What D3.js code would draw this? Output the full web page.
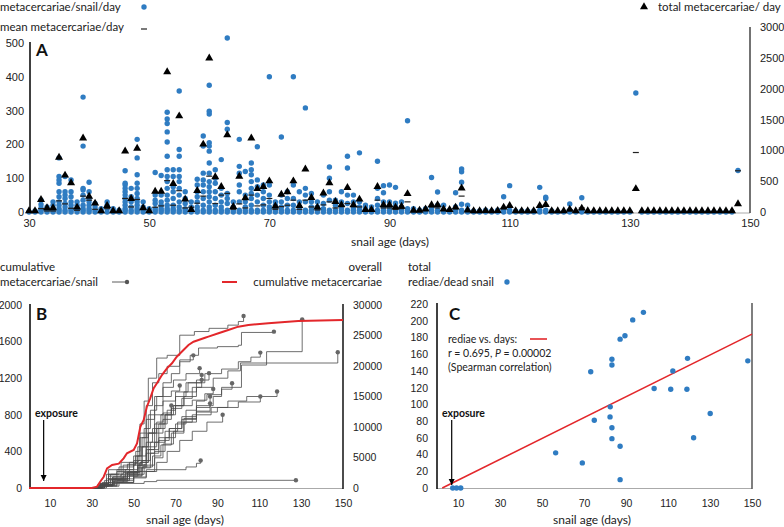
<!DOCTYPE html>
<meta charset="utf-8">
<style>
body { margin: 0; background: #fff; }
svg { font-family: Lato, "Open Sans", sans-serif; }
.tick text { font-size: 11px; fill: #222; }
.small .tick text { font-size: 10.5px; }
.leg { font-size: 11.5px; fill: #222; }
.title { font-size: 12px; fill: #222; }
.panel { font-size: 17px; font-weight: bold; fill: #111; }
.expo { font-size: 10.5px; font-weight: bold; fill: #111; }
.note { font-size: 10.5px; fill: #222; }
</style>
<svg width="784" height="527"></svg>
<script src="https://d3js.org/d3.v7.min.js"></script>
<script>

// ---------- panel A data ----------
// metacercariae per snail per day: [day, values of each snail]
var perSnailDay = [
  [30,[0]],[31,[0,3]],[32,[0,5,12,22,35]],[33,[0,5,15]],[34,[0,4,10,20,30]],
  [35,[0,5,10,20,30,45,60,85,95,105,160]],[36,[0,5,15,25,40,50,60,105]],
  [37,[0,5,10,20,30,45,60,95]],[38,[0,5,10,20,30]],[39,[0,5,10,20,35,50,65,70,195,340]],
  [40,[0,5,10,20,30,40,60,88]],[41,[0,5,15,25]],[42,[0,5,10]],[43,[0,10,20,30]],
  [44,[0,5,10]],[45,[0,5]],[46,[0,5,10,20,30,40,50,60,70,80,85,122]],
  [47,[0,5,15,30,45,70]],[48,[0,5,10,20,30,40,55,70,85,110,160,215]],
  [49,[0,5,15,30]],[50,[0,5,10]],[51,[0,5,10,25,35,50,117]],[52,[0,5,10,20,30,50,108]],
  [53,[0,5,10,20,35,50,70,90,105,125,165,207,237,262,275,295]],
  [54,[0,5,10,20,40,60,75,105,125]],[55,[0,5,15,30,50,70,90,105,125,165,185,358]],
  [56,[0,5,10,25,40,60]],[57,[0,5,15,30]],[58,[0,5,15,30,45,60,80,97]],
  [59,[0,5,20,40,60,80,95,115,195,225]],
  [60,[0,5,15,30,45,60,75,90,115,145,180,195,205,290,298,375]],
  [61,[0,5,20,40,60,85,100,125]],[62,[0,5,15,30,50,70,155]],[63,[0,5,25,40,55,245,265,515]],
  [64,[0,5,15,30]],[65,[0,5,30,60,80,115,135,215]],[66,[0,5,15,30,50,120]],
  [67,[0,5,20,40,55,70,90,110,125,145]],[68,[0,5,30,50,75,95,193]],[69,[0,5,20,40,60,80]],
  [70,[0,5,15,30,50,80,400]],[71,[0,5,10,20,30]],[72,[0,5,15,30,50,222]],[73,[0,5,20,40,60]],
  [74,[0,5,20,40,80,400]],[75,[0,5,15,30,60]],[76,[0,5,30,50,70,308]],[77,[0,5,15,30,55]],
  [78,[0,5,15,30]],[79,[0,5,10,25,50]],[80,[0,5,35,60,100,133]],[81,[0,5,20,35]],
  [82,[0,5,10,30,60]],[83,[0,5,25,50,130,165]],[84,[0,5,10,30,50]],[85,[0,5,15,30,175]],
  [86,[0,5,10,20]],[87,[0,5,15]],[88,[0,5,20,40,70,150]],[89,[0,5,15,30,57,78]],
  [90,[0,5,15,30,80]],[91,[0,5,15,26,73]],[92,[0,5,15,30]],[93,[0,5,10,270]],[94,[0,5,10]],
  [95,[0,5]],[96,[0,5,10]],[97,[0,5,15,102]],[98,[0,5,20,59]],[99,[0,5,20]],[100,[0,5]],
  [101,[0,5,15,57]],[102,[0,5,23,88,119,127]],[103,[0,5,20]],[104,[0,3]],[105,[0,3]],
  [106,[0,5]],[107,[0,3]],[108,[0,5]],[109,[0,5,45]],[110,[0,5,78]],[111,[0,3]],[112,[0,3]],
  [113,[0,3]],[114,[0,3]],[115,[0,5,73]],[116,[0,5,40,44]],[117,[0,3]],[118,[0]],[119,[0]],
  [120,[0,5,24]],[121,[0]],[122,[0,5,42]],[123,[0]],[124,[0]],[125,[0]],[126,[0]],[127,[0]],
  [128,[0]],[129,[0]],[130,[0]],[131,[352]],[132,[0]],[133,[0]],[134,[0]],[135,[0]],
  [136,[0]],[137,[0]],[138,[0]],[139,[0]],[140,[0]],[141,[0]],[142,[0]],[143,[0]],
  [144,[0]],[145,[0]],[146,[0]],[147,[0]],[148,[123]]
];

// days 30..148
var dayFirst = 30;
var meanPerDay = [0,0,10,3,3,33,24,11,5,47,35,8,0,10,0,0,40,15,37,8,
  0,14,18,93,20,63,12,14,26,47,106,25,50,55,8,24,12,50,18,21,
  40,8,16,20,35,8,35,15,6,21,30,12,18,25,16,15,5,5,35,12,
  12,8,10,30,3,3,6,15,12,5,3,10,47,4,0,0,2,0,2,10,
  15,0,0,0,0,15,20,0,0,0,7,0,12,0,0,0,0,0,0,0,
  0,176,0,0,0,0,0,0,0,0,0,0,0,0,0,0,0,0,122];
var totalPerDay = [0,0,185,50,50,869,579,454,60,1180,235,125,0,87,0,0,972,200,1016,50,
  0,317,317,2257,442,1540,190,20,330,1082,2480,552,393,1234,70,560,210,1180,360,393,
  486,80,268,311,486,87,677,218,60,290,454,153,100,377,100,190,20,20,393,100,
  100,60,75,279,10,10,30,100,98,30,20,60,372,15,0,0,5,0,5,60,
  87,0,0,0,0,87,104,0,0,0,25,0,44,0,0,0,0,0,0,0,
  0,360,0,0,0,0,0,0,0,0,0,0,0,0,0,0,0,0,115];

var xTicksA = [30, 50, 70, 90, 110, 130, 150];
var yTicksA = [0, 100, 200, 300, 400, 500];
var yTicksARight = [0, 500, 1000, 1500, 2000, 2500, 3000];

// ---------- panel B data ----------
var overallCumulative = [[0,0],[30,0],[32.5,220],[34,1030],[35.7,1850],[37.3,3220],[39.7,3770],
  [42.9,3990],[45.2,4860],[46.8,5690],[50,6230],[51.6,7320],[53.2,10050],[54.8,11150],
  [56.3,13330],[57.9,14700],[59.5,16340],[61.1,17160],[63.5,18520],[65.9,19620],[68.3,20440],
  [70.6,21520],[73.8,22620],[76.2,23440],[78.6,23980],[81,24260],[84.1,24640],[85.7,24810],
  [90.5,25360],[95.2,25900],[100,26450],[104.8,26720],[114.3,27000],[128.6,27380],[150,27540]];

var snailCurves = [
  [[30,0],[33,20],[36,80],[38,150],[42,200],[47,260],[51,400],[53,700],[55,950],[57,1200],[61,1420],[66,1450],[72,1670],[79,1710],[86,1745],[95,1780],[100,1820],[102.5,1880]],
  [[30,0],[34,30],[37,100],[42,180],[48,280],[52,450],[55,650],[58,850],[61,1000],[64,1150],[68,1250],[72,1380],[77,1450],[81,1530],[90,1545],[100,1560],[101.5,1700],[117,1709]],
  [[30,0],[34,20],[38,90],[44,150],[50,250],[54,450],[57,600],[60,700],[65,800],[70,900],[78,960],[85,1020],[92,1100],[101.5,1344],[113.5,1490],[130.5,1843]],
  [[30,0],[35,40],[40,120],[46,200],[52,350],[56,600],[60,800],[64,950],[70,1050],[76,1150],[84,1250],[92,1300],[100,1380],[106,1430],[110.5,1480]],
  [[30,0],[33,30],[38,100],[45,170],[52,300],[56,500],[59,650],[63,800],[68,900],[74,1000],[80,1100],[88,1200],[95,1280],[101,1366],[147.5,1483]],
  [[30,0],[34,50],[38,200],[44,280],[50,350],[53,600],[56,900],[59,1150],[62,1250],[66,1330],[72,1400],[78.5,1450]],
  [[30,0],[35,60],[39,150],[45,250],[51,350],[54,550],[57,800],[60,1000],[64,1100],[69,1180],[75,1250],[81.5,1310]],
  [[30,0],[36,40],[41,100],[48,180],[54,300],[58,500],[62,700],[66,850],[70,1000],[75,1150],[82.5,1236]],
  [[30,0],[35,30],[40,90],[47,150],[53,280],[57,450],[61,650],[65,800],[69,900],[74,1050],[80,1180],[86,1255]],
  [[30,0],[34,20],[38,60],[45,130],[52,250],[56,420],[60,600],[64,750],[68,870],[73,980],[78,1100],[82.5,1182]],
  [[30,0],[33,40],[37,150],[43,230],[50,300],[53,550],[56,750],[60,900],[64,1000],[68,1060],[72,1120]],
  [[30,0],[36,30],[42,80],[50,150],[55,250],[60,400],[65,550],[70,700],[75,850],[80,950],[84,1030],[88,1083]],
  [[30,0],[35,20],[40,70],[47,130],[54,220],[58,380],[62,520],[67,650],[73,780],[80,900],[88,1000],[92,1080],[97,1145]],
  [[30,0],[34,50],[38,130],[44,200],[50,270],[54,450],[57,600],[61,720],[64,820],[68,902]],
  [[30,0],[37,20],[43,60],[50,120],[56,200],[60,330],[64,480],[69,620],[74,760],[80,880],[86.5,1000]],
  [[30,0],[35,30],[41,80],[48,140],[54,230],[59,350],[63,470],[68,600],[74,720],[80,840],[86.5,925]],
  [[30,0],[36,20],[42,60],[50,110],[56,180],[61,280],[66,400],[72,520],[78,620],[85,720],[92.5,800]],
  [[30,0],[35,40],[40,100],[47,170],[53,280],[57,420],[62,550],[67,650],[73,750],[80,830],[90,880],[100,940],[110.5,1000]],
  [[30,0],[34,30],[39,90],[46,160],[52,250],[56,380],[60,500],[65,620],[71,720],[78,800],[87,880],[95,950],[104,1000],[118.5,1054]],
  [[30,0],[34,30],[40,100],[50,180],[60,200],[75,230],[80,270],[82,300]],
  [[30,0],[33,30],[40,50],[55,70],[61,84],[127.5,84]],
  [[30,0],[34,40],[40,120],[47,180],[52,220],[55.5,240]]
];

var xTicksB = [10, 30, 50, 70, 90, 110, 130, 150];
var yTicksB = [0, 400, 800, 1200, 1600, 2000];
var yTicksBRight = [0, 5000, 10000, 15000, 20000, 25000, 30000];

// ---------- panel C data ----------
var rediaeDays   = [7.5, 9.3, 11.3, 56.5, 69.2, 73.2, 74.9, 82.5, 82.4, 83.3, 83.3, 83.3, 83.3,
  87.2, 89.5, 87.2, 87.2, 93.2, 98.3, 103.4, 111.3, 112.3, 119, 119.3, 122.2, 130.1, 148];
var rediaeCounts = [0, 0, 0, 42, 30, 139, 81, 97, 85, 72, 59, 154, 147,
  178, 182, 50, 10, 201, 210, 119, 118, 140, 118, 155, 60, 89, 152];
var fitLine = [[2.5, 0], [150, 184]];
var yTicksC = [0, 20, 40, 60, 80, 100, 120, 140, 160, 180, 200, 220];

var exposureDay = 7;
var blue = "#2f7cc2", red = "#e3272b";
var fmt = d3.format("d");

var svg = d3.select("svg");

svg.append("defs").append("marker")
    .attr("id", "arrow")
    .attr("viewBox", "0 0 10 10")
    .attr("refX", 10).attr("refY", 5)
    .attr("markerWidth", 6).attr("markerHeight", 9)
    .attr("markerUnits", "userSpaceOnUse")
    .attr("orient", "auto")
  .append("path")
    .attr("d", "M0,0L10,5L0,10z")
    .attr("fill", "#000");

function noDomain(g) {
  g.select(".domain").remove();
}

// ================= A =================
var xA = d3.scaleLinear().domain([30, 150]).range([29, 750]);
var yA = d3.scaleLinear().domain([0, 500]).range([212, 43]);
var yA2 = d3.scaleLinear().domain([0, 3000]).range([212, 27]);

svg.append("line").attr("x1", 30).attr("x2", 750).attr("y1", 213).attr("y2", 213)
    .attr("stroke", "#aaa").attr("stroke-width", 1);

svg.append("g").attr("transform", "translate(0,213)")
    .call(d3.axisBottom(xA).tickValues(xTicksA).tickSize(0).tickPadding(6).tickFormat(fmt))
    .call(noDomain);
svg.append("g").attr("transform", "translate(30,0)")
    .call(d3.axisLeft(yA).tickValues(yTicksA).tickSize(0).tickPadding(6).tickFormat(fmt))
    .call(noDomain);
svg.append("g").attr("transform", "translate(750,0)")
    .call(d3.axisRight(yA2).tickValues(yTicksARight).tickSize(0).tickPadding(10).tickFormat(fmt))
    .call(noDomain);

svg.append("line").attr("x1", 30).attr("x2", 30).attr("y1", 42).attr("y2", 213)
    .attr("stroke", "#000").attr("stroke-width", 1.5);
svg.append("line").attr("x1", 750).attr("x2", 750).attr("y1", 27).attr("y2", 213)
    .attr("stroke", "#444").attr("stroke-width", 1.5);

var dotsA = [];
perSnailDay.forEach(function(e) {
  e[1].forEach(function(v) { dotsA.push({ day: e[0], v: v }); });
});

svg.append("g").selectAll("circle").data(dotsA).enter().append("circle")
    .attr("cx", function(d) { return xA(d.day); })
    .attr("cy", function(d) { return yA(d.v); })
    .attr("r", 2.7)
    .attr("fill", blue);

svg.append("g").selectAll("line").data(meanPerDay).enter().append("line")
    .attr("x1", function(d, i) { return xA(dayFirst + i) - 3; })
    .attr("x2", function(d, i) { return xA(dayFirst + i) + 3; })
    .attr("y1", function(d) { return yA(d); })
    .attr("y2", function(d) { return yA(d); })
    .attr("stroke", "#222").attr("stroke-width", 1.2);

var tri = d3.symbol().type(d3.symbolTriangle).size(28);
svg.append("g").selectAll("path").data(totalPerDay).enter().append("path")
    .attr("d", tri)
    .attr("transform", function(d, i) {
      return "translate(" + xA(dayFirst + i) + "," + (yA2(d) - 1) + ")";
    })
    .attr("fill", "#000");

svg.append("text").attr("class", "title").attr("x", 390).attr("y", 246)
    .attr("text-anchor", "middle").text("snail age (days)");
svg.append("text").attr("class", "panel").attr("x", 36).attr("y", 56).text("A");

// legends A
svg.append("text").attr("class", "leg").attr("x", 0).attr("y", 11).text("metacercariae/snail/day");
svg.append("circle").attr("cx", 144).attr("cy", 7).attr("r", 2.7).attr("fill", blue);
svg.append("text").attr("class", "leg").attr("x", 0).attr("y", 31).text("mean metacercariae/day");
svg.append("line").attr("x1", 141).attr("x2", 147).attr("y1", 29).attr("y2", 29)
    .attr("stroke", "#222").attr("stroke-width", 1.2);
svg.append("path").attr("d", tri).attr("transform", "translate(644,7)").attr("fill", "#000");
svg.append("text").attr("class", "leg").attr("x", 658).attr("y", 11).text("total metacercariae/ day");

// ================= B =================
var xB = d3.scaleLinear().domain([0, 150]).range([29, 343]);
var yB = d3.scaleLinear().domain([0, 2000]).range([488, 305]);
var yB2 = d3.scaleLinear().domain([0, 30000]).range([488, 305]);

svg.append("line").attr("x1", 30).attr("x2", 343).attr("y1", 488.5).attr("y2", 488.5)
    .attr("stroke", "#aaa");
svg.append("g").attr("class", "small").attr("transform", "translate(0,488)")
    .call(d3.axisBottom(xB).tickValues(xTicksB).tickSize(0).tickPadding(12).tickFormat(fmt))
    .call(noDomain);
svg.append("g").attr("class", "small").attr("transform", "translate(30,0)")
    .call(d3.axisLeft(yB).tickValues(yTicksB).tickSize(0).tickPadding(8).tickFormat(fmt))
    .call(noDomain);
svg.append("g").attr("class", "small").attr("transform", "translate(343,0)")
    .call(d3.axisRight(yB2).tickValues(yTicksBRight).tickSize(0).tickPadding(10).tickFormat(fmt))
    .call(noDomain);
svg.append("line").attr("x1", 30).attr("x2", 30).attr("y1", 304).attr("y2", 489)
    .attr("stroke", "#000").attr("stroke-width", 1.5);
svg.append("line").attr("x1", 343).attr("x2", 343).attr("y1", 304).attr("y2", 489)
    .attr("stroke", "#111").attr("stroke-width", 1.5);

var stepLine = d3.line()
    .x(function(d) { return xB(d[0]); })
    .y(function(d) { return yB(d[1]); })
    .curve(d3.curveStepAfter);

svg.append("g").selectAll("path").data(snailCurves).enter().append("path")
    .attr("d", stepLine)
    .attr("fill", "none")
    .attr("stroke", "#4a4a4a")
    .attr("stroke-width", 0.8);

svg.append("g").selectAll("circle").data(snailCurves).enter().append("circle")
    .attr("cx", function(d) { return xB(d[d.length - 1][0]); })
    .attr("cy", function(d) { return yB(d[d.length - 1][1]); })
    .attr("r", 2.2)
    .attr("fill", "#666");

var redLine = d3.line()
    .x(function(d) { return xB(d[0]); })
    .y(function(d) { return yB2(d[1]); });
svg.append("path").datum(overallCumulative)
    .attr("d", redLine)
    .attr("fill", "none")
    .attr("stroke", red)
    .attr("stroke-width", 2);

svg.append("text").attr("class", "panel").attr("x", 36).attr("y", 320).text("B");
svg.append("text").attr("class", "title").attr("x", 185).attr("y", 524)
    .attr("text-anchor", "middle").text("snail age (days)");

svg.append("text").attr("class", "expo").attr("x", 35).attr("y", 417).text("exposure");
svg.append("line").attr("x1", xB(exposureDay)).attr("x2", xB(exposureDay))
    .attr("y1", 420).attr("y2", 481)
    .attr("stroke", "#000").attr("stroke-width", 1.2).attr("marker-end", "url(#arrow)");

// legend B
svg.append("text").attr("class", "leg").attr("x", 0).attr("y", 271).text("cumulative");
svg.append("text").attr("class", "leg").attr("x", 0).attr("y", 286).text("metacercariae/snail");
svg.append("line").attr("x1", 112).attr("x2", 127).attr("y1", 282).attr("y2", 282)
    .attr("stroke", "#333").attr("stroke-width", 0.8);
svg.append("circle").attr("cx", 127).attr("cy", 282).attr("r", 2.2).attr("fill", "#555");
svg.append("text").attr("class", "leg").attr("x", 382).attr("y", 271)
    .attr("text-anchor", "end").text("overall");
svg.append("text").attr("class", "leg").attr("x", 382).attr("y", 286)
    .attr("text-anchor", "end").text("cumulative metacercariae");
svg.append("line").attr("x1", 222).attr("x2", 237).attr("y1", 282).attr("y2", 282)
    .attr("stroke", red).attr("stroke-width", 2);

// ================= C =================
var xC = d3.scaleLinear().domain([0, 150]).range([437, 752]);
var yC = d3.scaleLinear().domain([0, 220]).range([488, 304]);

svg.append("line").attr("x1", 437).attr("x2", 752).attr("y1", 488.5).attr("y2", 488.5)
    .attr("stroke", "#aaa");
svg.append("g").attr("class", "small").attr("transform", "translate(0,488)")
    .call(d3.axisBottom(xC).tickValues(xTicksB).tickSize(0).tickPadding(12).tickFormat(fmt))
    .call(noDomain);
svg.append("g").attr("class", "small").attr("transform", "translate(437,0)")
    .call(d3.axisLeft(yC).tickValues(yTicksC).tickSize(0).tickPadding(9).tickFormat(fmt))
    .call(noDomain);
svg.append("line").attr("x1", 437).attr("x2", 437).attr("y1", 303).attr("y2", 489)
    .attr("stroke", "#000").attr("stroke-width", 1.5);
svg.append("line").attr("x1", 752).attr("x2", 752).attr("y1", 303).attr("y2", 489)
    .attr("stroke", "#555").attr("stroke-width", 1.5);

svg.append("path").datum(fitLine)
    .attr("d", d3.line().x(function(d) { return xC(d[0]); }).y(function(d) { return yC(d[1]); }))
    .attr("stroke", red).attr("stroke-width", 1.6).attr("fill", "none");

svg.append("g").selectAll("circle").data(rediaeDays).enter().append("circle")
    .attr("cx", function(d) { return xC(d); })
    .attr("cy", function(d, i) { return yC(rediaeCounts[i]); })
    .attr("r", 2.7)
    .attr("fill", blue);

svg.append("text").attr("class", "panel").attr("x", 449).attr("y", 320).text("C");
svg.append("text").attr("class", "title").attr("x", 592).attr("y", 524)
    .attr("text-anchor", "middle").text("snail age (days)");

svg.append("text").attr("class", "expo").attr("x", 442).attr("y", 417).text("exposure");
svg.append("line").attr("x1", xC(exposureDay)).attr("x2", xC(exposureDay))
    .attr("y1", 420).attr("y2", 485)
    .attr("stroke", "#000").attr("stroke-width", 1.2).attr("marker-end", "url(#arrow)");

svg.append("text").attr("class", "note").attr("x", 448).attr("y", 343).text("rediae vs. days:");
svg.append("line").attr("x1", 530).attr("x2", 547).attr("y1", 339).attr("y2", 339)
    .attr("stroke", red).attr("stroke-width", 1.6);
var rt = svg.append("text").attr("class", "note").attr("x", 448).attr("y", 357);
rt.append("tspan").text("r = 0.695, ");
rt.append("tspan").attr("font-style", "italic").text("P");
rt.append("tspan").text(" = 0.00002");
svg.append("text").attr("class", "note").attr("x", 448).attr("y", 371).text("(Spearman correlation)");

// legend C
svg.append("text").attr("class", "leg").attr("x", 408).attr("y", 271).text("total");
svg.append("text").attr("class", "leg").attr("x", 408).attr("y", 286).text("rediae/dead snail");
svg.append("circle").attr("cx", 507).attr("cy", 282).attr("r", 2.7).attr("fill", blue);

</script>
